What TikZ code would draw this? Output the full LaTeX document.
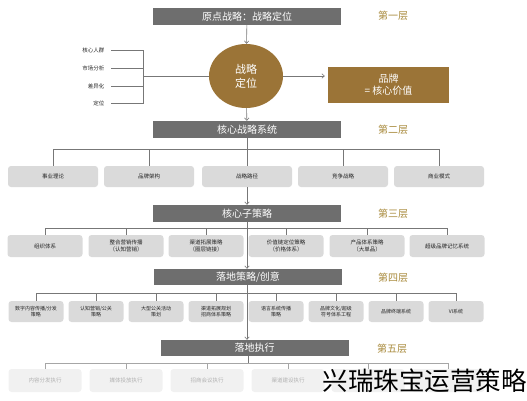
\documentclass[tikz,border=0pt]{standalone}
\usepackage{fontspec}
\setmainfont{Noto Sans CJK SC}
\usetikzlibrary{shapes.geometric,arrows.meta}
\definecolor{headgray}{HTML}{6E6E6E}
\definecolor{levelgold}{HTML}{A88A3C}
\definecolor{corebrown}{HTML}{9B7437}
\definecolor{boxgray}{HTML}{DADADA}
\definecolor{palegray}{HTML}{F1F1F1}
\definecolor{linegray}{HTML}{777777}
\tikzset{
  head/.style={fill=headgray,text=white,minimum width=188pt,minimum height=17pt,inner sep=0pt,font=\fontsize{10}{11}\selectfont},
  level/.style={text=levelgold,font=\fontsize{10}{11}\selectfont},
  item/.style={fill=boxgray,rounded corners=3pt,minimum height=21pt,inner sep=1pt,align=center,text=black!85,font=\fontsize{5.5}{6.8}\selectfont},
  faint/.style={item,fill=palegray,text=black!30,minimum height=23pt},
  core/.style={fill=corebrown,text=white,align=center},
  link/.style={draw=linegray,line width=0.6pt},
  tip/.style={link,-{Straight Barb[length=2.5pt,width=4.5pt]}}
}
\begin{document}
\begin{tikzpicture}[x=1pt,y=-1pt]
  \useasboundingbox (0,0) rectangle (527,400);

  \node[head] (h1) at (247,16.5) {原点战略：战略定位};
  \node[level] (l1) at (393,16) {第一层};
  \node[core,ellipse,minimum width=74pt,minimum height=64pt,inner sep=0pt,font=\fontsize{11}{14}\selectfont] (e) at (246,76) {战略\\定位};
  \node[core,minimum width=121pt,minimum height=36pt,inner sep=0pt,font=\fontsize{10}{12}\selectfont] (b) at (388.5,85) {品牌\\= 核心价值};
  \begin{scope}[every node/.style={anchor=east,text=black!85,font=\fontsize{5.5}{6}\selectfont}]
    \node (t1) at (108,50) {核心人群};
    \node (t2) at (108,68) {市场分析};
    \node (t3) at (108,86) {差异化};
    \node (t4) at (108,103) {定位};
  \end{scope}
  \coordinate (k) at (143,76);
  \foreach \i in {1,...,4}
    \draw[link] ([xshift=3pt]t\i.east) -| (k);
  \draw[link] (k) -- (e.west);
  \draw[tip,shorten >=3pt] (e.east) -- (e.east -| b.west);
  \draw[tip] (h1) -- (e);

  \node[head] (h2) at (247,129.5) {核心战略系统};
  \node[level] (l2) at (393,130) {第二层};
  \draw[tip] (e) -- (h2);
  \coordinate (s2) at (247,149);
  \begin{scope}[every node/.style={item,minimum width=90pt}]
    \node (b21) at (53,176.5) {事业理论};
    \node (b22) at (149,176.5) {品牌架构};
    \node (b23) at (247,176.5) {战略路径};
    \node (b24) at (343,176.5) {竞争战略};
    \node (b25) at (439,176.5) {商业模式};
  \end{scope}
  \draw[link] (h2) -- (s2);
  \foreach \i in {1,...,5}
    \draw[link] (b2\i.north) |- (s2);

  \node[head] (h3) at (247,213.5) {核心子策略};
  \node[level] (l3) at (393,214) {第三层};
  \draw[tip] (b23) -- (h3);
  \coordinate (s3) at (247,228);
  \begin{scope}[every node/.style={item,minimum width=75pt,minimum height=22pt}]
    \node (b31) at (45,246) {组织体系};
    \node (b32) at (126,246) {整合营销传播\\（认知营销）};
    \node (b33) at (206,246) {渠道拓展策略\\（圈层链接）};
    \node (b34) at (286,246) {价值链定位策略\\（价格体系）};
    \node (b35) at (367,246) {产品体系策略\\（大单品）};
    \node (b36) at (447,246) {超级品牌记忆系统};
  \end{scope}
  \draw[link] (h3) -- (s3);
  \foreach \i in {1,...,6}
    \draw[link] (b3\i.north) |- (s3);

  \node[head,minimum height=16pt] (h4) at (248,277) {落地策略/创意};
  \node[level] (l4) at (393,278) {第四层};
  \draw[tip] (s3) -- (s3 |- h4.north);
  \coordinate (s4) at (247,293);
  \begin{scope}[every node/.style={item,minimum width=55pt,font=\fontsize{5}{6.5}\selectfont}]
    \node (b41) at (36,311.5) {数字内容传播/分发\\策略};
    \node (b42) at (96,311.5) {认知营销/公关\\策略};
    \node (b43) at (156,311.5) {大型公关活动\\策划};
    \node (b44) at (216,311.5) {渠道拓展规划\\招商体系策略};
    \node (b45) at (276,311.5) {语言系统传播\\策略};
    \node (b46) at (336,311.5) {品牌文化/超级\\符号体系工程};
    \node (b47) at (396,311.5) {品牌终端系统};
    \node (b48) at (456,311.5) {VI系统};
  \end{scope}
  \draw[link] (h4.south -| s4) -- (s4);
  \foreach \i in {1,...,8}
    \draw[link] (b4\i.north) |- (s4);

  \node[head,minimum height=16pt] (h5) at (254.5,348) {落地执行};
  \node[level] (l5) at (392,349) {第五层};
  \draw[tip] (s4) -- (s4 |- h5.north);
  \coordinate (s5) at (248,363);
  \begin{scope}[every node/.style={faint,minimum width=73pt}]
    \node (b51) at (45,380.5) {内容分发执行};
    \node (b52) at (126,380.5) {媒体投放执行};
    \node (b53) at (207,380.5) {招商会议执行};
    \node (b54) at (288,380.5) {渠道建设执行};
    \node (b55) at (368,380.5) {};
    \node (b56) at (448,380.5) {};
  \end{scope}
  \draw[link] (h5.south -| s5) -- (s5);
  \foreach \i in {1,...,6}
    \draw[link,draw=black!35] (b5\i.north) |- (s5);

  \node[anchor=east,inner sep=0pt,font=\fontsize{25.5}{27}\selectfont] (w) at (527,381) {兴瑞珠宝运营策略};
\end{tikzpicture}
\end{document}
